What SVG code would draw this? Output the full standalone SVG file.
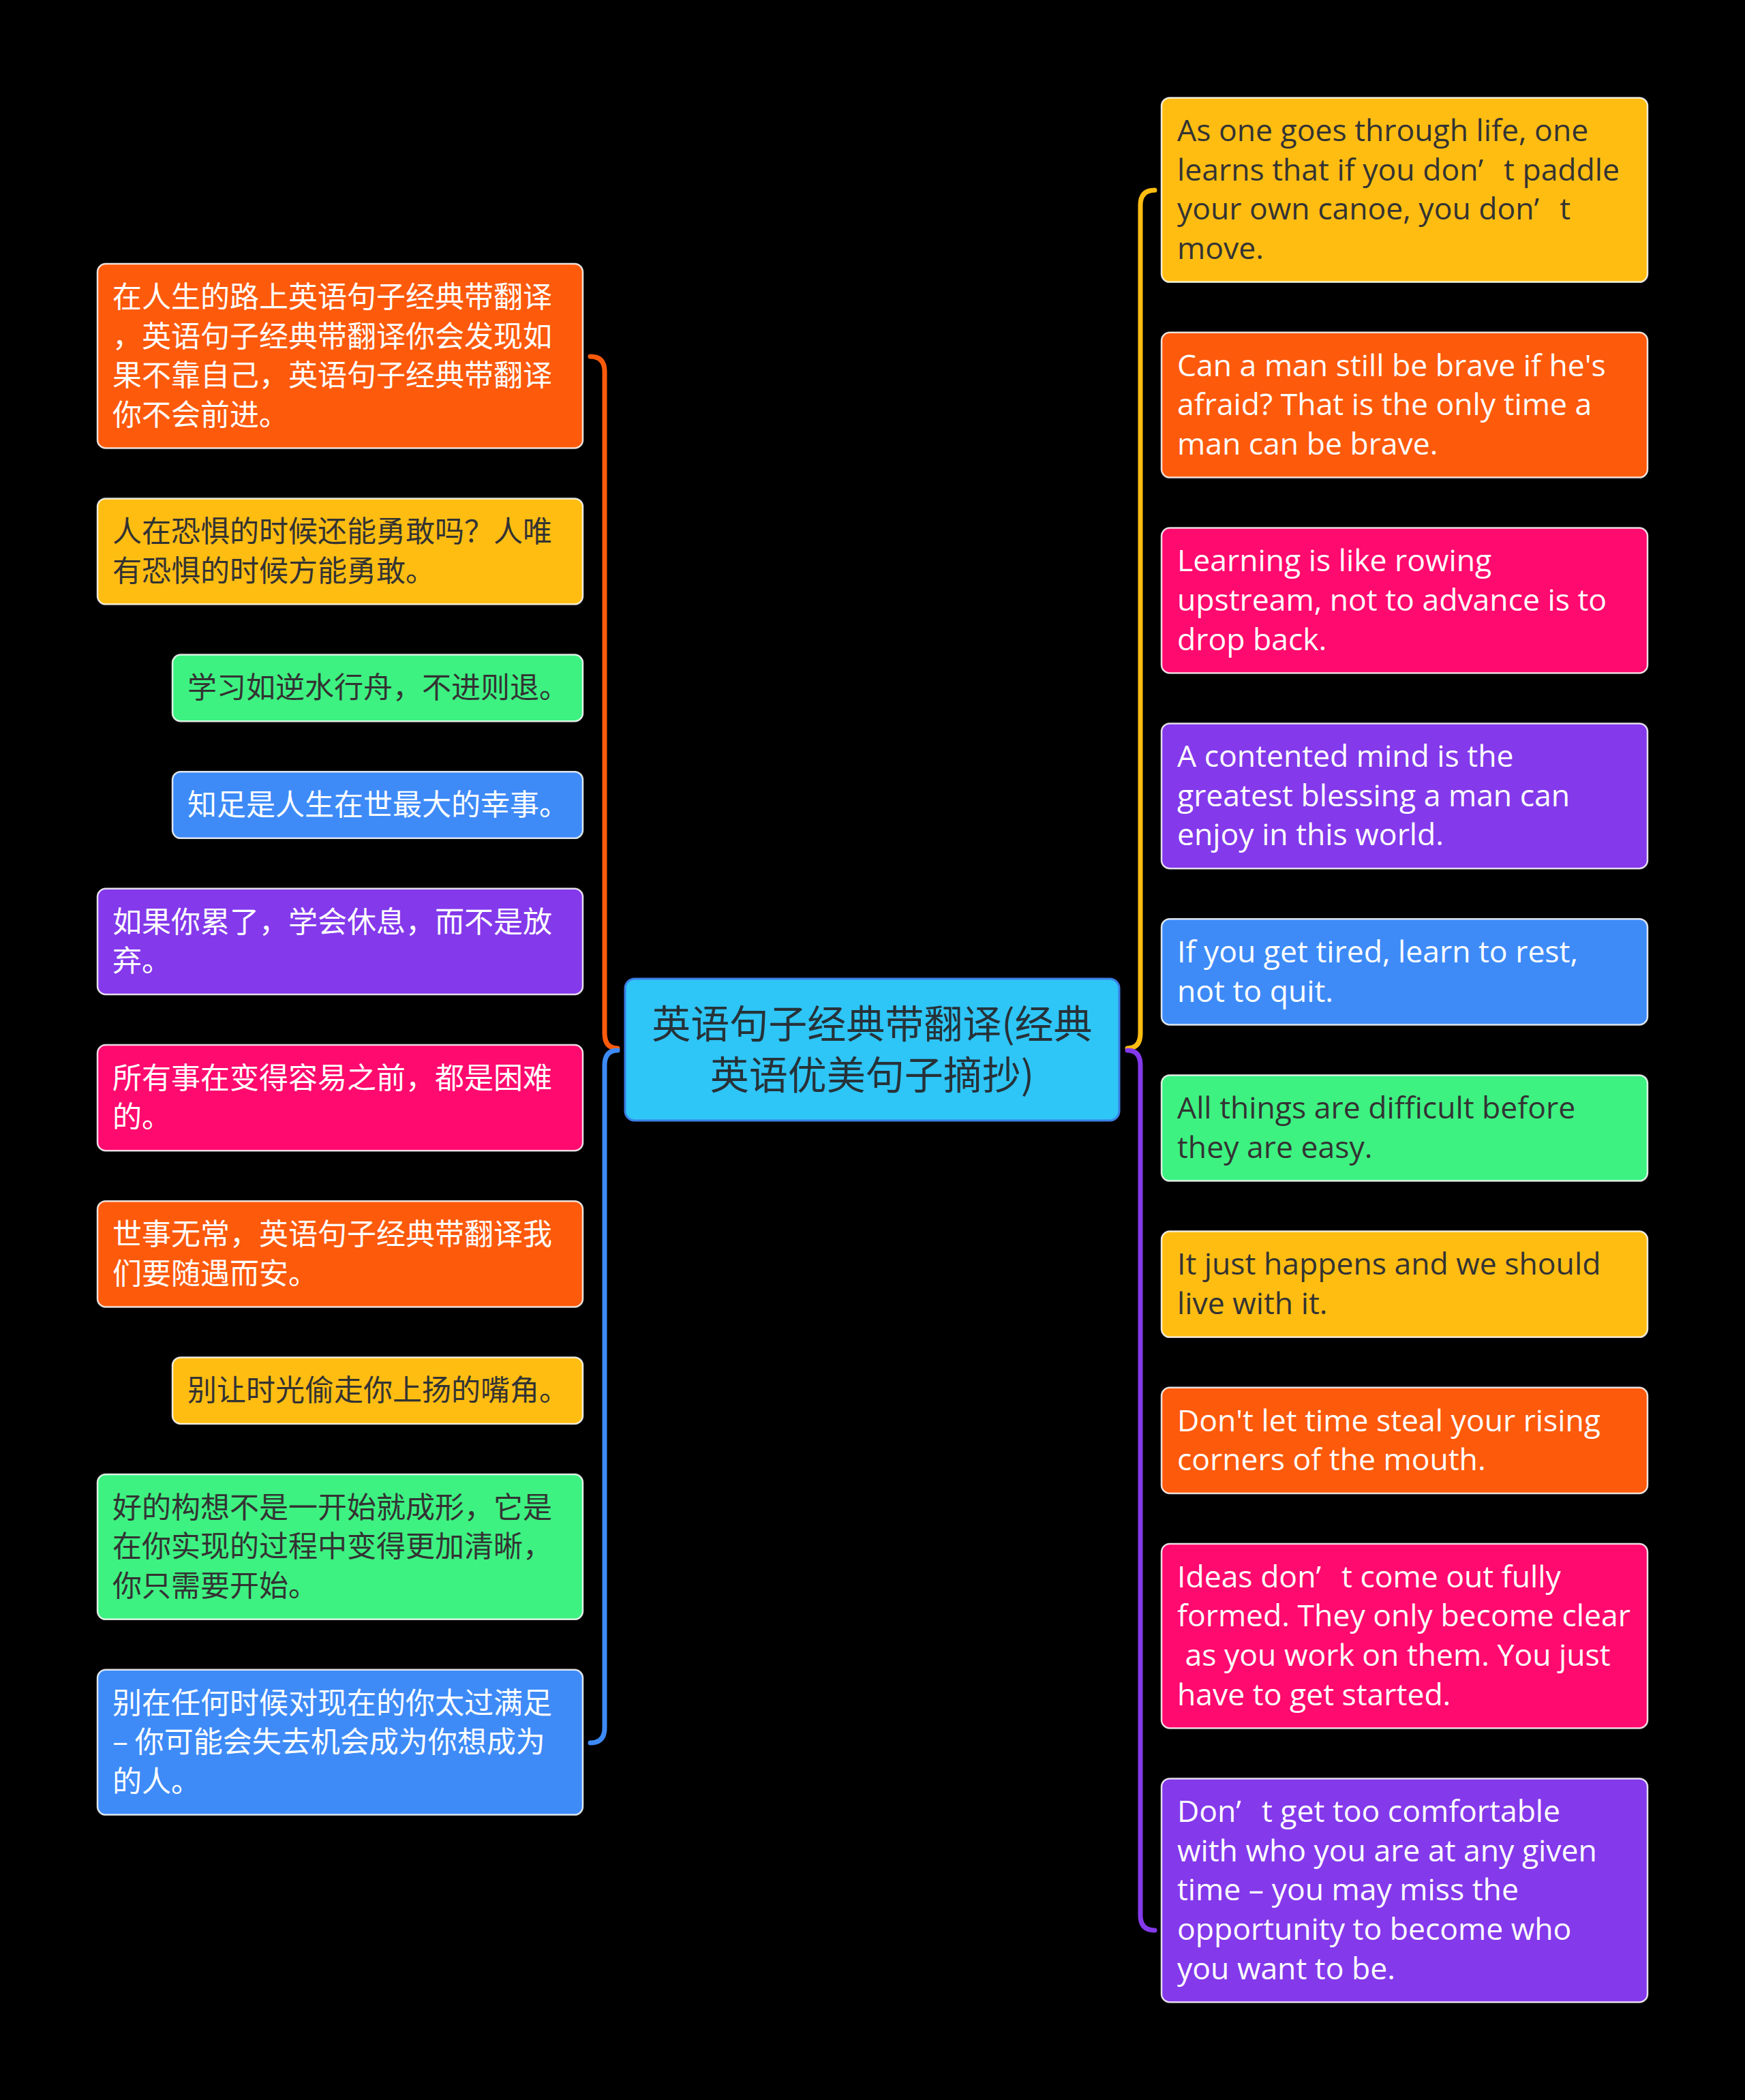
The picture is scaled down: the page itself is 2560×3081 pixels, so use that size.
<svg xmlns="http://www.w3.org/2000/svg" width="2560" height="3081" viewBox="0 0 2560 3081">
<style>
.n rect{stroke:#ffffff;stroke-opacity:.85;stroke-width:2.5}
.cn{font-family:"Noto Sans CJK SC","Noto Sans",sans-serif;font-size:43px}
.en{font-family:"Open Sans","Noto Sans","Noto Sans CJK SC",sans-serif;font-size:44.5px;white-space:pre}
.w{fill:#ffffff}
.d{fill:#333333}
.or{fill:#FD5A0C}.ye{fill:#FFBD12}.gr{fill:#3DF281}.bl{fill:#3E8BF8}.pu{fill:#8439EB}.pk{fill:#FF0A6E}
.c path{fill:none;stroke-width:7;stroke-linecap:round}
</style>
<rect width="2560" height="3081" fill="#000000"/>
<g id="connectors" class="c">
<path d="M866 523 Q887 523 887 545 L887 1516 Q887 1538 906 1538" stroke="#FD5A0C"/>
<path d="M906 1541 Q887 1541 887 1563 L887 2535 Q887 2557 866 2557" stroke="#3E8BF8"/>
<path d="M1654 1538 Q1673 1538 1673 1516 L1673 301 Q1673 279 1694 279" stroke="#FFBD12"/>
<path d="M1654 1541 Q1673 1541 1673 1563 L1673 2810 Q1673 2832 1694 2832" stroke="#8439EB"/>
</g>
<g id="center">
<rect x="917" y="1436" width="725" height="208" rx="14" fill="#2EC5F7" stroke="#3B7FE6" stroke-width="3"/>
<text class="cn" fill="#263238" text-anchor="middle" style="font-size:57px"><tspan x="1279.5" y="1523">英语句子经典带翻译(经典</tspan><tspan x="1279.5" y="1598">英语优美句子摘抄)</tspan></text>
</g>
<g id="L1" class="n"><rect x="143" y="387" width="712" height="270.4" rx="12" class="or"/>
<text class="cn w"><tspan x="165" y="451">在人生的路上英语句子经典带翻译</tspan><tspan x="165" y="508.6">，英语句子经典带翻译你会发现如</tspan><tspan x="165" y="566.2">果不靠自己，英语句子经典带翻译</tspan><tspan x="165" y="623.8">你不会前进。</tspan></text></g>
<g id="L2" class="n"><rect x="143" y="731.4" width="712" height="155.2" rx="12" class="ye"/>
<text class="cn d"><tspan x="165" y="795.2">人在恐惧的时候还能勇敢吗？人唯</tspan><tspan x="165" y="852.8">有恐惧的时候方能勇敢。</tspan></text></g>
<g id="L3" class="n"><rect x="253" y="960.6" width="602" height="97.6" rx="12" class="gr"/>
<text class="cn d"><tspan x="275" y="1024.4">学习如逆水行舟，不进则退。</tspan></text></g>
<g id="L4" class="n"><rect x="253" y="1132.2" width="602" height="97.6" rx="12" class="bl"/>
<text class="cn w"><tspan x="275" y="1196">知足是人生在世最大的幸事。</tspan></text></g>
<g id="L5" class="n"><rect x="143" y="1303.8" width="712" height="155.2" rx="12" class="pu"/>
<text class="cn w"><tspan x="165" y="1367.6">如果你累了，学会休息，而不是放</tspan><tspan x="165" y="1425.2">弃。</tspan></text></g>
<g id="L6" class="n"><rect x="143" y="1533" width="712" height="155.2" rx="12" class="pk"/>
<text class="cn w"><tspan x="165" y="1596.8">所有事在变得容易之前，都是困难</tspan><tspan x="165" y="1654.4">的。</tspan></text></g>
<g id="L7" class="n"><rect x="143" y="1762.2" width="712" height="155.2" rx="12" class="or"/>
<text class="cn w"><tspan x="165" y="1826">世事无常，英语句子经典带翻译我</tspan><tspan x="165" y="1883.6">们要随遇而安。</tspan></text></g>
<g id="L8" class="n"><rect x="253" y="1991.4" width="602" height="97.6" rx="12" class="ye"/>
<text class="cn d"><tspan x="275" y="2055.2">别让时光偷走你上扬的嘴角。</tspan></text></g>
<g id="L9" class="n"><rect x="143" y="2163" width="712" height="212.8" rx="12" class="gr"/>
<text class="cn d"><tspan x="165" y="2226.8">好的构想不是一开始就成形，它是</tspan><tspan x="165" y="2284.4">在你实现的过程中变得更加清晰，</tspan><tspan x="165" y="2342">你只需要开始。</tspan></text></g>
<g id="L10" class="n"><rect x="143" y="2449.8" width="712" height="212.8" rx="12" class="bl"/>
<text class="cn w"><tspan x="165" y="2513.6">别在任何时候对现在的你太过满足</tspan><tspan x="165" y="2571.2">– 你可能会失去机会成为你想成为</tspan><tspan x="165" y="2628.8">的人。</tspan></text></g>
<g id="R1" class="n"><rect x="1704" y="143.4" width="713" height="270.4" rx="12" class="ye"/>
<text class="en d"><tspan x="1727" y="207.2">As one goes through life, one</tspan><tspan x="1727" y="264.8">learns that if you don’<tspan dx="30">t paddle</tspan></tspan><tspan x="1727" y="322.4">your own canoe, you don’<tspan dx="30">t</tspan></tspan><tspan x="1727" y="380">move.</tspan></text></g>
<g id="R2" class="n"><rect x="1704" y="487.8" width="713" height="212.8" rx="12" class="or"/>
<text class="en w"><tspan x="1727" y="551.6">Can a man still be brave if he's</tspan><tspan x="1727" y="609.2">afraid? That is the only time a</tspan><tspan x="1727" y="666.8">man can be brave.</tspan></text></g>
<g id="R3" class="n"><rect x="1704" y="774.6" width="713" height="212.8" rx="12" class="pk"/>
<text class="en w"><tspan x="1727" y="838.4">Learning is like rowing</tspan><tspan x="1727" y="896">upstream, not to advance is to</tspan><tspan x="1727" y="953.6">drop back.</tspan></text></g>
<g id="R4" class="n"><rect x="1704" y="1061.4" width="713" height="212.8" rx="12" class="pu"/>
<text class="en w"><tspan x="1727" y="1125.2">A contented mind is the</tspan><tspan x="1727" y="1182.8">greatest blessing a man can</tspan><tspan x="1727" y="1240.4">enjoy in this world.</tspan></text></g>
<g id="R5" class="n"><rect x="1704" y="1348.2" width="713" height="155.2" rx="12" class="bl"/>
<text class="en w"><tspan x="1727" y="1412">If you get tired, learn to rest,</tspan><tspan x="1727" y="1469.6">not to quit.</tspan></text></g>
<g id="R6" class="n"><rect x="1704" y="1577.4" width="713" height="155.2" rx="12" class="gr"/>
<text class="en d"><tspan x="1727" y="1641.2">All things are difficult before</tspan><tspan x="1727" y="1698.8">they are easy.</tspan></text></g>
<g id="R7" class="n"><rect x="1704" y="1806.6" width="713" height="155.2" rx="12" class="ye"/>
<text class="en d"><tspan x="1727" y="1870.4">It just happens and we should</tspan><tspan x="1727" y="1928">live with it.</tspan></text></g>
<g id="R8" class="n"><rect x="1704" y="2035.8" width="713" height="155.2" rx="12" class="or"/>
<text class="en w"><tspan x="1727" y="2099.6">Don't let time steal your rising</tspan><tspan x="1727" y="2157.2">corners of the mouth.</tspan></text></g>
<g id="R9" class="n"><rect x="1704" y="2265" width="713" height="270.4" rx="12" class="pk"/>
<text class="en w"><tspan x="1727" y="2328.8">Ideas don’<tspan dx="30">t come out fully</tspan></tspan><tspan x="1727" y="2386.4">formed. They only become clear</tspan><tspan x="1727" y="2444"> as you work on them. You just</tspan><tspan x="1727" y="2501.6">have to get started.</tspan></text></g>
<g id="R10" class="n"><rect x="1704" y="2609.4" width="713" height="328" rx="12" class="pu"/>
<text class="en w"><tspan x="1727" y="2673.2">Don’<tspan dx="30">t get too comfortable</tspan></tspan><tspan x="1727" y="2730.8">with who you are at any given</tspan><tspan x="1727" y="2788.4">time – you may miss the</tspan><tspan x="1727" y="2846">opportunity to become who</tspan><tspan x="1727" y="2903.6">you want to be.</tspan></text></g>
</svg>
